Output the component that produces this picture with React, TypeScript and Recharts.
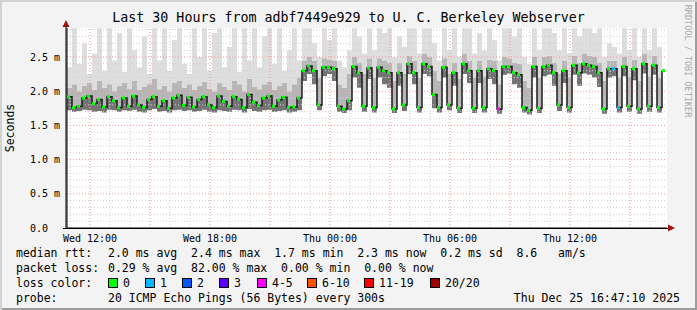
import React from 'react';
import {
  ComposedChart,
  Area,
  Line,
  XAxis,
  YAxis,
  ReferenceLine,
  CartesianGrid,
} from 'recharts';

// time axis: one step every 15 minutes, first step Wed 10:51
const START_HOUR = 10.85;
const STEP_HOURS = 0.25;

// median rtt per step (ms)
const MEDIAN = [
  1.92, 1.76, 1.78, 1.90, 1.93, 1.82, 1.88, 1.77, 1.92, 1.86,
  1.76, 1.90, 1.78, 1.93, 1.80, 1.76, 1.88, 1.92, 1.78, 1.86,
  1.75, 1.90, 1.94, 1.79, 1.91, 1.77, 1.88, 1.92, 1.80, 1.76,
  1.93, 1.85, 1.78, 1.92, 1.88, 1.76, 1.95, 1.84, 1.79, 1.90,
  1.93, 1.78, 1.87, 1.91, 1.76, 1.77, 1.90,
  2.30, 2.37, 2.30, 1.80, 2.35, 2.35, 2.33, 1.78, 1.74, 1.86, 2.36, 2.27, 1.78,
  2.34, 1.76, 2.35, 2.30, 2.27, 1.74, 2.27, 1.80, 2.40, 2.27, 1.76, 2.40, 2.36, 1.95, 1.76, 2.35, 1.80, 2.27, 1.75, 2.40,
  2.30, 1.75, 2.30, 1.76, 2.33, 2.30, 1.74, 2.36, 2.36, 2.27, 2.24, 1.76, 1.72, 2.36, 1.75, 2.36, 2.38, 2.27, 1.80, 2.30,
  1.76, 2.38, 2.27, 2.40, 2.38, 2.36, 2.27, 1.74, 2.33, 2.33, 1.76, 2.36, 1.78, 2.33, 1.74, 2.40, 1.78, 2.38, 1.76, 2.30,
];

// fastest ping per step
const LOW = [
  1.72, 1.70, 1.71, 1.73, 1.72, 1.70, 1.71, 1.69, 1.73, 1.72,
  1.70, 1.72, 1.71, 1.73, 1.70, 1.69, 1.72, 1.74, 1.70, 1.71,
  1.69, 1.72, 1.73, 1.71, 1.72, 1.70, 1.71, 1.73, 1.70, 1.69,
  1.72, 1.71, 1.70, 1.73, 1.72, 1.69, 1.74, 1.71, 1.70, 1.72,
  1.73, 1.70, 1.71, 1.72, 1.69, 1.70, 1.72,
  2.15, 2.25, 2.10, 1.72, 2.22, 2.25, 2.15, 1.70, 1.68, 1.72, 2.20, 2.05, 1.70,
  2.18, 1.69, 2.20, 2.10, 2.05, 1.68, 2.08, 1.71, 2.25, 2.10, 1.69, 2.25, 2.22, 1.75, 1.69, 2.20, 1.72, 2.08, 1.68, 2.25,
  2.12, 1.68, 2.12, 1.69, 2.18, 2.10, 1.67, 2.24, 2.26, 2.10, 2.05, 1.69, 1.66, 2.20, 1.68, 2.22, 2.24, 2.08, 1.71, 2.12,
  1.69, 2.24, 2.08, 2.26, 2.24, 2.20, 2.06, 1.67, 2.20, 2.22, 1.69, 2.22, 1.70, 2.16, 1.67, 2.26, 1.70, 2.24, 1.69, 2.12,
];

// upper edge of the dense smoke
const UPPER = [
  2.05, 2.10, 2.00, 2.08, 2.12, 2.02, 2.15, 2.05, 2.10, 2.00,
  2.08, 2.12, 2.04, 2.15, 2.02, 2.06, 2.10, 2.18, 2.03, 2.08,
  2.00, 2.12, 2.15, 2.05, 2.10, 2.02, 2.08, 2.14, 2.04, 2.00,
  2.12, 2.06, 2.02, 2.15, 2.10, 2.00, 2.18, 2.06, 2.03, 2.10,
  2.14, 2.02, 2.08, 2.12, 2.00, 2.10, 2.20,
  2.45, 2.50, 2.45, 2.20, 2.48, 2.46, 2.45, 2.10, 2.05, 2.25, 2.50, 2.42, 2.25,
  2.48, 2.20, 2.48, 2.45, 2.42, 2.15, 2.42, 2.25, 2.52, 2.44, 2.20, 2.55, 2.50, 2.30, 2.15, 2.48, 2.25, 2.42, 2.18, 2.55,
  2.45, 2.20, 2.45, 2.22, 2.46, 2.44, 2.10, 2.50, 2.48, 2.42, 2.40, 2.15, 2.05, 2.50, 2.20, 2.50, 2.52, 2.42, 2.25, 2.45,
  2.20, 2.52, 2.42, 2.55, 2.52, 2.50, 2.42, 2.15, 2.45, 2.44, 2.20, 2.50, 2.22, 2.46, 2.15, 2.55, 2.22, 2.52, 2.20, 2.45,
];

// slowest ping per step (clipped at top of graph)
const HIGH = [
  2.35, 2.92, 2.40, 2.70, 2.25, 2.55, 2.92, 2.30, 2.92, 2.45,
  2.85, 2.28, 2.92, 2.60, 2.35, 2.80, 2.25, 2.92, 2.45, 2.92,
  2.30, 2.75, 2.92, 2.40, 2.25, 2.92, 2.50, 2.92, 2.30, 2.85,
  2.92, 2.35, 2.65, 2.92, 2.28, 2.92, 2.45, 2.92, 2.35, 2.80,
  2.92, 2.40, 2.92, 2.30, 2.60, 2.92, 2.45,
  2.92, 2.92, 2.70, 2.50, 2.92, 2.75, 2.92, 2.45, 2.35, 2.60, 2.92, 2.80, 2.55,
  2.92, 2.60, 2.92, 2.85, 2.92, 2.50, 2.80, 2.65, 2.92, 2.92, 2.55, 2.92, 2.92, 2.70, 2.45, 2.92, 2.60, 2.92, 2.50, 2.92,
  2.92, 2.55, 2.85, 2.60, 2.92, 2.75, 2.45, 2.92, 2.92, 2.80, 2.92, 2.50, 2.40, 2.92, 2.60, 2.92, 2.92, 2.85, 2.60, 2.92,
  2.55, 2.92, 2.80, 2.92, 2.92, 2.85, 2.92, 2.50, 2.70, 2.65, 2.55, 2.92, 2.60, 2.92, 2.50, 2.92, 2.60, 2.92, 2.65, 2.80,
];

// loss class per step (index into LOSS_COLORS)
const LOSS = [
  0, 0, 0, 0, 0, 0, 0, 0, 0, 0, 0, 0, 0, 0, 0, 0, 0, 0, 0, 0,
  0, 0, 0, 0, 0, 0, 0, 0, 0, 0, 0, 0, 0, 0, 0, 0, 0, 0, 0, 0,
  0, 0, 0, 0, 0, 0, 0, 0, 0, 0, 0, 0, 0, 0, 0, 0, 0, 0, 0, 0,
  0, 0, 0, 0, 0, 0, 0, 0, 0, 0, 0, 0, 0, 0, 0, 0, 0, 0, 0, 0,
  0, 0, 0, 0, 0, 0, 4, 0, 0, 0, 0, 0, 0, 0, 0, 0, 0, 0, 0, 0,
  0, 0, 0, 0, 0, 0, 0, 0, 0, 1, 1, 0, 0, 0, 0, 0, 0, 0, 0, 0,
];

const LOSS_COLORS = ['#00ff00', '#00b8ff', '#0059ff', '#5e00ff', '#ff00ff', '#ff5500', '#ff0000', '#a10000'];
const LOSS_LABELS = ['0', '1', '2', '3', '4-5', '6-10', '11-19', '20/20'];
const LOSS_X = [108, 145, 182, 219, 257, 307, 364, 430];

const X_TICKS = [12, 18, 24, 30, 36];
const X_LABELS = ['Wed 12:00', 'Wed 18:00', 'Thu 00:00', 'Thu 06:00', 'Thu 12:00'];
const Y_TICKS = [0, 0.5, 1, 1.5, 2, 2.5];
const Y_LABELS = ['0.0', '0.5 m', '1.0 m', '1.5 m', '2.0 m', '2.5 m'];

const FONT = '"DejaVu Sans Mono", monospace';

const HOUR_LINES = Array.from({ length: 30 }, (_, i) => 11 + i).filter(h => h % 3 !== 0);
const MAJOR_HOUR_LINES = Array.from({ length: 10 }, (_, i) => 12 + i * 3);
const MINOR_Y_LINES = Array.from({ length: 29 }, (_, i) => (i + 1) / 10).filter(v => Math.round(v * 10) % 5 !== 0);
const MAJOR_Y_LINES = [0.5, 1, 1.5, 2, 2.5];

const LossDot = (props: any) => {
  const { cx, cy, payload, index } = props;
  if (cx == null || cy == null) return null;
  return (
    <rect
      key={`dot-${index}`}
      x={cx}
      y={cy - 1.5}
      width={3}
      height={3}
      fill={LOSS_COLORS[payload.loss]}
    />
  );
};

const XTick = (props: any) => {
  const { x, payload } = props;
  const i = X_TICKS.indexOf(payload.value);
  return (
    <text x={x} y={242} textAnchor="middle" fontSize={10} fontFamily={FONT} fill="#000">
      {X_LABELS[i]}
    </text>
  );
};

const YTick = (props: any) => {
  const { y, payload } = props;
  const i = Y_TICKS.indexOf(payload.value);
  return (
    <text x={30} y={y + 3.5} textAnchor="start" fontSize={10} fontFamily={FONT} fill="#000">
      {Y_LABELS[i]}
    </text>
  );
};

const textStyle: React.CSSProperties = {
  position: 'absolute',
  fontFamily: FONT,
  fontSize: 11.5,
  lineHeight: '12px',
  whiteSpace: 'pre',
  color: '#000',
};

export default function App() {
  const rows = MEDIAN.map((m, i) => ({
    t: START_HOUR + i * STEP_HOURS,
    base: LOW[i],
    below: m - LOW[i],
    above: UPPER[i] - m,
    top: HIGH[i] - UPPER[i],
    med: m,
    loss: LOSS[i],
  }));

  return (
    <div
      style={{
        position: 'absolute',
        left: 0,
        top: 0,
        width: 697,
        height: 310,
        background: '#f3f3f3',
        boxShadow: 'inset 2px 2px 0 #d2d2d2, inset -2px -2px 0 #9c9c9c',
        overflow: 'hidden',
      }}
    >
      <div style={{ position: 'absolute', left: 0, top: 0 }}>
        <ComposedChart
          width={697}
          height={310}
          data={rows}
          margin={{ top: 28, right: 30, left: 0, bottom: 62 }}
        >
          <CartesianGrid fill="#ffffff" horizontal={false} vertical={false} />
          <XAxis
            dataKey="t"
            type="number"
            domain={[10.85, 40.85]}
            ticks={X_TICKS}
            tick={<XTick />}
            tickLine={false}
            axisLine={{ stroke: '#000' }}
            height={20}
            allowDataOverflow
          />
          <YAxis
            type="number"
            domain={[0, 2.924]}
            ticks={Y_TICKS}
            tick={<YTick />}
            tickLine={false}
            axisLine={{ stroke: '#000' }}
            width={67}
            allowDataOverflow
          />
          <Area type="stepAfter" dataKey="base" stackId="smoke" stroke="none" fill="none" isAnimationActive={false} />
          <Area type="stepAfter" dataKey="below" stackId="smoke" stroke="none" fill="#747474" fillOpacity={1} isAnimationActive={false} />
          <Area type="stepAfter" dataKey="above" stackId="smoke" stroke="none" fill="#b6b6b6" fillOpacity={1} isAnimationActive={false} />
          <Area type="stepAfter" dataKey="top" stackId="smoke" stroke="none" fill="#dedede" fillOpacity={1} isAnimationActive={false} />
          {HOUR_LINES.map(h => (
            <ReferenceLine key={`vh-${h}`} x={h} stroke="#cfcfcf" strokeDasharray="1 2" />
          ))}
          {MINOR_Y_LINES.map(v => (
            <ReferenceLine key={`hy-${v}`} y={v} stroke="#cfcfcf" strokeDasharray="1 2" />
          ))}
          {MAJOR_HOUR_LINES.map(h => (
            <ReferenceLine key={`vm-${h}`} x={h} stroke="#f29a9a" strokeDasharray="1 2" />
          ))}
          {MAJOR_Y_LINES.map(v => (
            <ReferenceLine key={`hm-${v}`} y={v} stroke="#f29a9a" strokeDasharray="1 2" />
          ))}
          <Line
            type="stepAfter"
            dataKey="med"
            stroke="#1c1c1c"
            strokeWidth={1.5}
            dot={LossDot}
            activeDot={false}
            isAnimationActive={false}
          />
        </ComposedChart>
      </div>

      <svg width={697} height={310} style={{ position: 'absolute', left: 0, top: 0, pointerEvents: 'none' }}>
        <polygon points="66,20 62.5,27 69.5,27" fill="#a01010" />
        <polygon points="675,228 668,224.5 668,231.5" fill="#a01010" />
        <line x1={66} y1={26} x2={66} y2={229} stroke="#000" />
        <line x1={63} y1={228.5} x2={668} y2={228.5} stroke="#000" />
        <text
          x={0}
          y={0}
          transform="translate(14,128) rotate(-90)"
          textAnchor="middle"
          fontFamily={FONT}
          fontSize={11.5}
          fill="#000"
        >
          Seconds
        </text>
        <text
          x={0}
          y={0}
          transform="translate(685,61) rotate(90)"
          textAnchor="middle"
          fontFamily={FONT}
          fontSize={8.5}
          fill="#a8a8a8"
        >
          RRDTOOL / TOBI OETIKER
        </text>
      </svg>

      <div style={{ ...textStyle, left: 0, width: 697, top: 11, fontSize: 13.3, lineHeight: '14px', textAlign: 'center' }}>
        Last 30 Hours from adbf7449e929 to U. C. Berkeley Webserver
      </div>

      <div style={{ ...textStyle, left: 16, top: 247 }}>median rtt:</div>
      <div style={{ ...textStyle, left: 108, top: 247 }}>
        {'2.0 ms avg  2.4 ms max  1.7 ms min  2.3 ms now  0.2 ms sd  8.6   am/s'}
      </div>
      <div style={{ ...textStyle, left: 16, top: 262 }}>packet loss:</div>
      <div style={{ ...textStyle, left: 108, top: 262 }}>
        {'0.29 % avg  82.00 % max  0.00 % min  0.00 % now'}
      </div>
      <div style={{ ...textStyle, left: 16, top: 277 }}>loss color:</div>
      {LOSS_LABELS.map((label, i) => (
        <React.Fragment key={label}>
          <div
            style={{
              position: 'absolute',
              left: LOSS_X[i],
              top: 278,
              width: 8,
              height: 8,
              background: LOSS_COLORS[i],
              border: '1px solid #000',
            }}
          />
          <div style={{ ...textStyle, left: LOSS_X[i] + 15, top: 277 }}>{label}</div>
        </React.Fragment>
      ))}
      <div style={{ ...textStyle, left: 16, top: 292 }}>probe:</div>
      <div style={{ ...textStyle, left: 108, top: 292 }}>
        {'20 ICMP Echo Pings (56 Bytes) every 300s'}
      </div>
      <div style={{ ...textStyle, right: 17, top: 292 }}>Thu Dec 25 16:47:10 2025</div>
    </div>
  );
}
